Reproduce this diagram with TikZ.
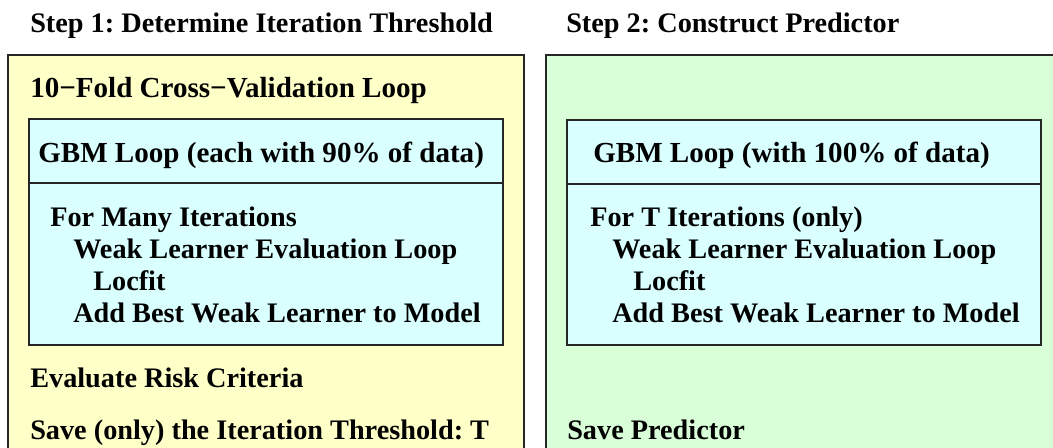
\documentclass[tikz,border=0pt]{standalone}
\usepackage{fontspec}
\setmainfont{Liberation Serif}
\frenchspacing
\definecolor{cvyellow}{RGB}{255,255,200}
\definecolor{fitgreen}{RGB}{217,255,217}
\definecolor{gbmcyan}{RGB}{217,255,255}
\tikzset{
  frame/.style={draw=black!85, line width=1.3pt},
  txt/.style={anchor=base west, inner sep=0pt, font=\fontsize{21.2}{25}\selectfont\bfseries},
  head/.style={txt, font=\fontsize{21.8}{26}\selectfont\bfseries}
}
\begin{document}
\begin{tikzpicture}[x=0.75pt, y=-0.75pt]
      \clip (0,0) rectangle (1053,448);
      \fill[white] (0,0) rectangle (1053,448);
      % step 1
      \draw[frame, fill=cvyellow] (8,55) rectangle (524,470);
      \draw[frame, fill=gbmcyan] (29,119) rectangle (503,345);
      \draw[frame] (29,183) -- (503,183);
      \node[txt] (step1) at (30,33) {Step 1: Determine Iteration Threshold};
      \node[head] (cvloop) at (30,98) {10−Fold Cross−Validation Loop};
      \node[head] (gbm1) at (38,163) {GBM Loop (each with 90\% of data)};
      \node[txt] (iter1) at (50,227) {For Many Iterations};
      \node[txt] (weak1) at (73,259) {Weak Learner Evaluation Loop};
      \node[txt] (loc1) at (93,291) {Locfit};
      \node[txt] (add1) at (73,323) {Add Best Weak Learner to Model};
      \node[txt] (risk) at (30,388) {Evaluate Risk Criteria};
      \node[txt] (save1) at (30,440) {Save (only) the Iteration Threshold: T};
      % step 2
      \draw[frame, fill=fitgreen] (546,55) rectangle (1070,470);
      \draw[frame, fill=gbmcyan] (567,120) rectangle (1041,345);
      \draw[frame] (567,184) -- (1041,184);
      \node[txt] (step2) at (566,33) {Step 2: Construct Predictor};
      \node[head] (gbm2) at (593,163) {GBM Loop (with 100\% of data)};
      \node[txt] (iter2) at (590,227) {For T Iterations (only)};
      \node[txt] (weak2) at (612,259) {Weak Learner Evaluation Loop};
      \node[txt] (loc2) at (633,291) {Locfit};
      \node[txt] (add2) at (612,323) {Add Best Weak Learner to Model};
      \node[txt] (save2) at (567,440) {Save Predictor};
    \end{tikzpicture}
\end{document}
